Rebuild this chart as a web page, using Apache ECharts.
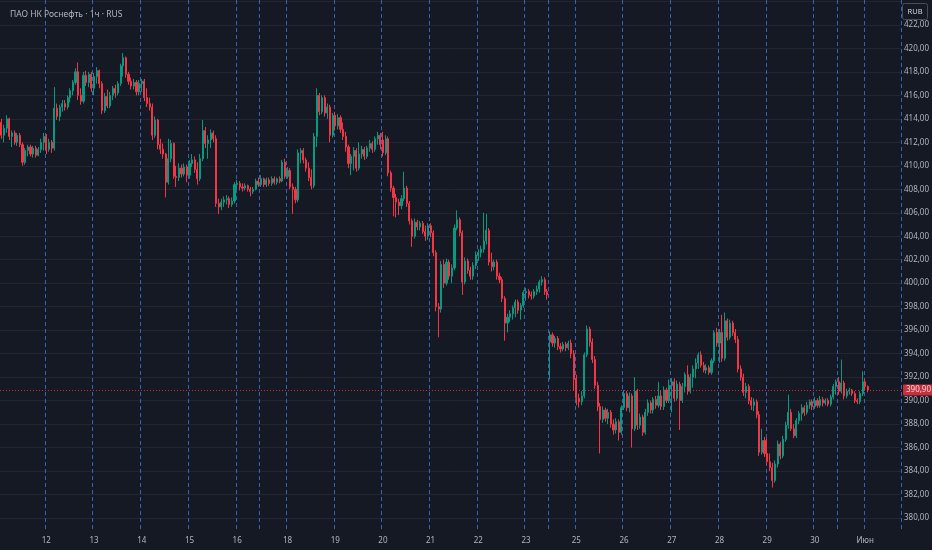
<!DOCTYPE html>
<html>
<head>
<meta charset="utf-8">
<script src="https://cdn.jsdelivr.net/npm/echarts@6/dist/echarts.min.js"></script>
<style>
html,body{margin:0;padding:0;background:#151924;}
#chart{width:932px;height:550px;}
</style>
</head>
<body>
<div id="chart"></div>
<script>
// часовые свечи [open, close, low, high] по дням
var d11=[[413.7,412.6,412.3,414.0],[412.6,413.2,412.0,413.5],[413.2,414.0,412.8,414.3],[414.0,412.5,412.2,414.1],[412.5,412.8,411.6,413.0],[412.8,412.0,411.8,413.0],[412.0,412.6,411.7,412.8],[412.6,411.8,411.6,412.8],[411.8,410.3,410.0,412.0],[410.3,411.3,410.1,411.5],[411.3,411.6,410.8,411.8],[411.6,411.0,410.8,411.8],[411.0,411.5,410.7,411.7],[411.5,410.9,410.7,411.7],[410.9,411.4,410.8,411.6],[411.4,412.0,411.1,412.3],[412.0,412.5,411.3,412.8]];
var d12=[[412.5,411.4,411.0,412.7],[411.4,412.0,411.2,412.3],[412.0,411.5,411.1,412.2],[411.5,414.9,411.3,416.7],[414.9,414.2,413.9,415.3],[414.2,415.0,413.8,415.2],[415.0,415.3,414.6,415.6],[415.3,415.0,414.7,415.6],[415.0,415.8,414.8,416.0],[415.8,416.4,415.4,416.6],[416.4,417.1,416.0,417.3],[417.1,418.0,416.9,418.3],[418.0,416.0,415.6,418.8],[416.0,415.5,415.2,416.6],[415.5,417.7,415.3,418.0],[417.7,417.1,416.8,418.1],[417.1,417.8,416.7,418.0],[417.8,416.6,416.3,418.0]];
var d13=[[416.6,417.6,416.0,417.9],[417.6,418.1,417.0,418.4],[418.1,417.0,416.6,418.2],[417.0,414.7,414.4,417.2],[414.7,415.9,414.5,416.2],[415.9,415.1,414.9,416.5],[415.1,416.0,414.9,416.3],[416.0,416.6,415.6,416.8],[416.6,416.2,415.8,416.9],[416.2,417.0,416.0,417.2],[417.0,418.5,416.8,418.7],[418.5,419.2,417.6,419.6],[419.2,417.8,417.5,419.3],[417.8,417.2,416.9,418.0],[417.2,416.8,416.5,417.5],[416.8,417.1,416.5,417.4],[417.1,416.3,416.0,417.3],[416.3,417.0,416.0,417.3]];
var d14=[[417.0,417.2,416.3,417.4],[417.2,415.8,415.5,417.4],[415.8,415.3,415.0,416.6],[415.3,415.0,414.7,415.8],[415.0,412.6,412.2,415.3],[412.6,413.9,412.4,414.2],[413.9,411.8,411.4,414.0],[411.8,411.4,411.0,412.3],[411.4,411.0,410.6,411.9],[411.0,408.6,407.3,411.1],[408.6,410.6,408.4,412.3],[410.6,411.9,410.3,412.2],[411.9,409.1,408.9,412.0],[409.1,409.0,408.2,410.0],[409.0,409.8,408.7,410.2],[409.8,409.3,409.0,410.1],[409.3,409.9,409.1,410.2],[409.9,409.2,408.6,410.1]];
var d15=[[409.2,410.2,408.9,410.5],[410.2,410.5,409.9,411.0],[410.5,409.7,409.4,410.8],[409.7,408.9,408.4,410.3],[408.9,410.6,408.7,411.0],[410.6,413.0,410.4,413.9],[413.0,411.9,411.5,413.3],[411.9,412.2,410.6,412.6],[412.2,412.8,411.5,413.1],[412.8,412.3,412.0,413.0],[412.3,406.8,406.5,412.6],[406.8,406.5,405.9,407.2],[406.5,406.9,406.2,407.2],[406.9,407.1,406.5,407.4],[407.1,407.2,406.7,407.5],[407.2,406.7,406.4,407.4],[406.7,407.0,406.5,407.3],[407.0,408.4,406.8,408.6]];
var d16=[[408.4,408.5,408.0,408.8],[408.5,408.2,407.9,408.7],[408.2,408.1,407.8,408.5],[408.1,408.3,407.9,408.5],[408.3,408.0,407.8,408.4],[408.0,407.8,407.4,408.2],[407.8,408.0,407.6,408.2],[408.0,408.7,407.9,408.9],[408.7,408.4,408.2,409.0]];
var d17=[[408.4,408.9,408.2,409.2],[408.9,408.4,408.2,409.0],[408.4,408.8,408.2,409.0],[408.8,408.5,408.3,409.0],[408.5,408.9,408.3,409.1],[408.9,408.6,408.4,409.1],[408.6,408.9,408.4,409.0],[408.9,408.7,408.5,409.1],[408.7,410.3,408.6,410.5],[410.3,409.1,408.9,410.6]];
var d18=[[409.1,409.6,408.9,409.9],[409.6,408.2,408.0,409.8],[408.2,408.0,405.9,408.5],[408.0,407.1,406.8,408.2],[407.1,411.1,406.9,411.4],[411.1,411.3,410.2,411.5],[411.3,410.5,410.2,411.5],[410.5,409.8,409.5,410.7],[409.8,409.0,408.7,410.3],[409.0,408.3,408.0,409.7],[408.3,412.5,408.1,412.8],[412.5,416.0,411.6,416.6],[416.0,414.6,414.3,416.2],[414.6,415.8,414.4,416.0],[415.8,414.5,414.2,416.0],[414.5,415.0,414.0,415.3],[415.0,412.6,412.0,415.2],[412.6,414.3,412.4,414.5]];
var d19=[[414.3,413.4,413.0,414.6],[413.4,414.1,413.1,414.4],[414.1,413.1,412.8,414.3],[413.1,412.5,412.2,413.7],[412.5,411.6,411.2,412.9],[411.6,410.2,409.8,411.8],[410.2,410.8,409.2,411.0],[410.8,411.3,409.6,411.6],[411.3,409.8,409.5,411.5],[409.8,411.0,409.6,412.0],[411.0,411.4,410.6,411.7],[411.4,410.8,410.5,411.6],[410.8,411.5,410.6,411.7],[411.5,411.9,411.2,412.2],[411.9,411.4,411.1,412.1],[411.4,412.3,411.2,412.5],[412.3,412.6,411.8,412.9],[412.6,411.8,411.4,412.8]];
var d20=[[412.2,411.1,410.8,412.9],[411.1,412.3,410.9,412.6],[412.3,409.4,409.1,412.5],[409.4,408.1,407.8,409.6],[408.1,407.3,405.7,408.3],[407.3,406.9,405.6,407.6],[406.9,406.6,405.8,407.2],[406.6,407.2,406.3,407.5],[407.2,408.1,407.0,409.5],[408.1,406.8,406.5,408.3],[406.8,405.3,405.0,407.0],[405.3,404.0,403.1,405.5],[404.0,405.2,403.8,405.5],[405.2,404.8,404.5,405.4],[404.8,405.1,404.5,405.3],[405.1,404.4,404.2,405.3],[404.4,404.0,403.6,404.9],[404.0,404.9,403.7,405.1]];
var d21=[[404.9,404.3,403.9,405.1],[404.3,402.6,402.3,404.5],[402.6,398.0,397.6,402.8],[398.0,397.8,395.4,398.3],[397.8,401.6,397.5,401.9],[401.6,400.0,399.6,402.0],[400.0,401.8,399.8,402.1],[401.8,400.6,400.3,402.0],[400.6,401.3,400.0,401.6],[401.3,404.7,401.1,405.0],[404.7,405.4,404.5,406.2],[405.4,404.3,404.0,405.6],[404.3,400.1,399.0,404.5],[400.1,401.9,399.9,402.2],[401.9,401.1,400.8,402.1],[401.1,400.6,400.3,401.4],[400.6,401.5,400.3,401.8],[401.5,402.4,401.2,402.7]];
var d22=[[402.4,402.6,401.9,402.9],[402.6,402.9,402.2,403.2],[402.9,403.6,402.6,406.0],[403.6,404.5,403.3,405.9],[404.5,401.8,401.5,404.7],[401.8,401.4,401.0,402.6],[401.4,401.8,401.1,402.0],[401.8,400.6,400.3,402.0],[400.6,400.3,400.0,400.9],[400.3,398.7,398.4,400.5],[398.7,396.6,395.1,398.9],[396.6,397.1,395.8,397.4],[397.1,397.4,396.7,397.7],[397.4,397.9,396.9,398.1],[397.9,398.4,397.1,398.6],[398.4,397.7,397.4,398.6],[397.7,398.1,396.9,398.3],[398.1,399.2,397.9,399.4]];
var d23=[[399.2,399.3,398.5,399.6],[399.3,399.0,398.7,399.5],[399.0,398.9,398.6,399.3],[398.9,399.3,398.7,399.5],[399.3,399.5,399.0,399.8],[399.5,400.1,399.2,400.3],[400.1,400.3,399.8,400.6],[400.3,399.3,399.0,400.5],[399.3,399.0,398.6,399.5]];
var d24=[[395.0,395.6,391.8,395.9],[395.6,394.9,394.6,395.8],[394.9,395.3,394.5,395.5],[395.3,394.6,394.3,395.5],[394.6,394.4,394.1,394.9],[394.4,394.8,394.2,395.0],[394.8,394.5,394.2,395.0],[394.5,394.9,394.3,395.1],[394.9,394.0,393.6,395.2],[394.0,391.8,390.9,394.3]];
var d25=[[391.8,390.2,389.6,392.2],[390.2,389.9,389.4,390.6],[389.9,390.4,389.6,390.8],[390.4,393.9,390.2,394.1],[393.9,396.1,393.7,396.4],[396.1,395.0,394.6,396.3],[395.0,393.5,393.2,395.3],[393.5,391.3,391.0,393.8],[391.3,389.5,389.1,391.6],[389.5,388.4,385.5,389.8],[388.4,389.2,388.1,389.5],[389.2,388.5,388.2,389.4],[388.5,389.0,388.0,389.3],[389.0,388.0,387.7,389.2],[388.0,387.5,387.1,388.4],[387.5,388.2,387.2,388.5],[388.2,387.3,386.6,388.4],[387.3,389.4,387.1,389.6]];
var d26=[[389.4,390.6,389.2,390.9],[390.6,389.4,389.1,390.8],[389.4,390.4,389.0,390.7],[390.4,387.6,386.0,390.6],[387.6,390.8,387.4,392.0],[390.8,387.9,387.5,391.0],[387.9,388.6,387.6,388.9],[388.6,387.3,387.0,388.8],[387.3,389.0,387.1,389.3],[389.0,389.8,388.7,390.1],[389.8,389.2,388.9,390.0],[389.2,390.1,388.9,390.3],[390.1,389.6,389.3,390.4],[389.6,390.4,389.4,391.6],[390.4,389.5,389.2,390.9],[389.5,390.9,389.2,391.2],[390.9,390.0,389.8,391.1],[390.0,391.3,389.8,391.8]];
var d27=[[391.3,391.6,389.0,391.9],[391.6,390.2,389.9,391.9],[390.2,391.4,390.0,391.7],[391.4,390.0,387.5,391.6],[390.0,391.2,389.8,391.5],[391.2,392.2,390.7,392.4],[392.2,390.8,390.5,393.0],[390.8,392.0,390.6,392.3],[392.0,392.7,391.1,393.0],[392.7,393.2,391.9,393.6],[393.2,393.9,392.7,394.1],[393.9,393.0,392.8,394.2],[393.0,392.6,392.4,393.3],[392.6,392.8,392.3,393.1],[392.8,392.4,392.2,393.0],[392.4,393.4,392.2,393.6],[393.4,395.8,393.2,396.0],[395.8,394.9,394.6,396.2]];
var d28=[[394.9,395.8,393.2,396.1],[395.8,393.6,393.3,397.3],[393.6,396.8,393.4,397.5],[396.8,395.4,395.1,397.0],[395.4,396.6,395.2,396.9],[396.6,395.8,395.5,396.8],[395.8,395.2,394.9,396.1],[395.2,392.7,392.4,395.5],[392.7,392.0,391.7,393.0],[392.0,390.7,390.4,392.3],[390.7,391.2,390.2,391.5],[391.2,390.0,389.7,391.4],[390.0,389.6,389.2,390.3],[389.6,389.9,389.1,390.2],[389.9,388.8,388.5,390.1],[388.8,385.6,385.3,389.1],[385.6,386.6,385.4,387.6],[386.6,385.5,385.2,386.9]];
var d29=[[385.5,384.8,384.5,386.8],[384.8,384.3,384.0,385.5],[384.3,383.2,382.6,384.7],[383.2,384.6,383.0,384.9],[384.6,386.3,384.3,386.6],[386.3,385.3,385.0,386.5],[385.3,386.7,385.1,387.0],[386.7,387.9,386.5,388.2],[387.9,389.0,387.6,390.5],[389.0,387.6,387.4,389.3],[387.6,387.0,386.8,388.0],[387.0,388.3,386.8,388.5],[388.3,388.9,388.0,389.1],[388.9,389.4,388.3,389.7],[389.4,389.0,388.7,389.6],[389.0,389.6,388.8,389.9],[389.6,389.9,389.3,390.1],[389.9,389.5,389.2,390.1]];
var d30=[[389.5,390.0,389.3,390.3],[390.0,389.6,389.4,390.2],[389.6,390.1,389.4,390.4],[390.1,389.8,389.5,390.3],[389.8,390.0,389.6,390.2],[390.0,389.7,389.5,390.2],[389.7,390.3,389.5,390.5],[390.3,391.2,390.1,391.4],[391.2,391.6,390.5,391.8]];
var d31=[[391.6,390.8,390.5,392.0],[390.8,391.5,390.6,393.5],[391.5,390.4,390.1,391.7],[390.4,390.8,390.2,391.0],[390.8,390.9,390.5,391.1],[390.9,390.6,390.4,391.0],[390.6,390.0,389.8,390.8],[390.0,389.9,389.7,390.2],[389.9,390.6,389.7,390.8],[390.6,391.6,390.4,392.5]];
var dJun1=[[391.6,391.2,390.9,391.9],[391.2,390.9,390.7,391.3]];

// подписи оси времени: '' = нет подписи, line = разделитель сессии
var days=[
  {label:'',bars:d11,line:false},
  {label:'12',bars:d12,line:true},
  {label:'13',bars:d13,line:true},
  {label:'14',bars:d14,line:true},
  {label:'15',bars:d15,line:true},
  {label:'16',bars:d16,line:true},
  {label:'',bars:d17,line:true},
  {label:'18',bars:d18,line:true},
  {label:'19',bars:d19,line:true},
  {label:'20',bars:d20,line:true},
  {label:'21',bars:d21,line:true},
  {label:'22',bars:d22,line:true},
  {label:'23',bars:d23,line:true},
  {label:'',bars:d24,line:true},
  {label:'25',bars:d25,line:true},
  {label:'26',bars:d26,line:true},
  {label:'27',bars:d27,line:true},
  {label:'28',bars:d28,line:true},
  {label:'29',bars:d29,line:true},
  {label:'30',bars:d30,line:true},
  {label:'',bars:d31,line:true},
  {label:'Июн',bars:dJun1,line:true}
];
var emptyBars=12; // пустое место справа
var priceTicks=[380,422]; // первая и последняя подпись шкалы цены
var lastPrice=390.90;
var titleText='ПАО НК Роснефть · 1ч · RUS';
var currency='RUB';

var cats=[],ohlc=[],labelAt={},lineAt={};
days.forEach(function(d,di){
  d.bars.forEach(function(b,k){
    var idx=cats.length;
    cats.push(di+'_'+k);
    ohlc.push(b);
    if(k==0){
      if(d.label) labelAt[idx]=d.label;
      if(d.line) lineAt[idx]=true;
    }
  });
});
for(var i=0;i<emptyBars;i++){cats.push('e_'+i);}

function fmtPrice(v){return v.toFixed(2).replace('.',',');}

var chart=echarts.init(document.getElementById('chart'));
var option={
  backgroundColor:'#151924',
  animation:false,
  title:{text:titleText,left:5,top:5,textStyle:{color:'#b2b5be',fontSize:8.5,fontWeight:'normal',fontFamily:'Noto Sans'}},
  grid:{left:0,top:0,width:903,height:530},
  xAxis:{
    type:'category',data:cats,boundaryGap:true,
    axisLine:{show:false},axisTick:{show:false},
    axisLabel:{color:'#b2b5be',fontSize:8,fontFamily:'Noto Sans',margin:7,
      interval:function(idx){return labelAt[idx]!==undefined;},
      formatter:function(v,idx){return labelAt[idx]||'';}},
    splitLine:{show:true,interval:function(idx){return lineAt[idx]===true;},
      lineStyle:{color:'#3562be',type:[4,3],width:1}}
  },
  yAxis:{
    type:'value',position:'right',scale:true,
    min:378.98,max:424.12,splitNumber:22,minInterval:2,maxInterval:2,
    axisLine:{show:false},axisTick:{show:false},
    splitLine:{show:true,showMinLine:false,showMaxLine:false,lineStyle:{color:'#232632',width:1}},
    axisLabel:{color:'#b2b5be',fontSize:8,fontFamily:'Noto Sans',margin:3,
      formatter:function(v){
        var r=Math.round(v);
        if(Math.abs(v-r)>0.01||r%2!==0||r<priceTicks[0]||r>priceTicks[1])return '';
        return fmtPrice(r);
      }}
  },
  graphic:[{type:'group',right:4,top:3,children:[
    {type:'rect',shape:{x:0,y:0,width:25,height:16,r:2},style:{fill:'#151924',stroke:'#4a4d58',lineWidth:1}},
    {type:'text',x:12.5,y:8.5,style:{text:currency,fill:'#d1d4dc',font:'7.5px Noto Sans',align:'center',verticalAlign:'middle'}}
  ]}],
  series:[{
    type:'candlestick',data:ohlc,barWidth:'60%',
    itemStyle:{color:'#089981',color0:'#f23645',borderColor:'#089981',borderColor0:'#f23645',borderWidth:1},
    markLine:{symbol:['none','none'],silent:true,animation:false,
      lineStyle:{color:'#f23645',type:[1,2],width:1,opacity:0.8},
      label:{position:'end',formatter:fmtPrice(lastPrice),color:'#ffffff',backgroundColor:'#f23645',
        padding:[2,3,1,3],fontSize:8,fontFamily:'Noto Sans',distance:2,borderRadius:1},
      data:[{yAxis:lastPrice}]}
  }]
};
chart.setOption(option);
</script>
</body>
</html>
